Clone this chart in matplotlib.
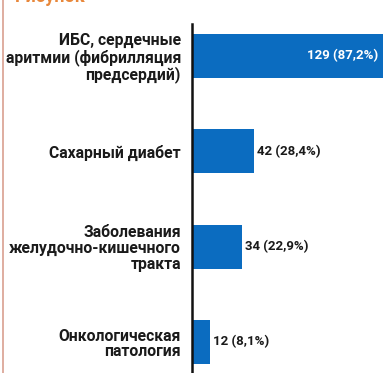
import matplotlib
matplotlib.use("Agg")
import matplotlib.pyplot as plt
from matplotlib.lines import Line2D

categories = [
    "ИБС, сердечные\nаритмии (фибрилляция\nпредсердий)",
    "Сахарный диабет",
    "Заболевания\nжелудочно-кишечного\nтракта",
    "Онкологическая\nпатология",
]
counts = [129, 42, 34, 12]
percents = ["87,2%", "28,4%", "22,9%", "8,1%"]
title = "Рисунок"

W, H = 387, 373
fig = plt.figure(figsize=(W / 100, H / 100), dpi=100)
fig.patch.set_facecolor("white")

# axes placement in pixels
ax_left, ax_right = 192, 387
ax_top, ax_bottom = 24, 373
ax = fig.add_axes([ax_left / W, 1 - ax_bottom / H, (ax_right - ax_left) / W, (ax_bottom - ax_top) / H])

blue = "#0B6CC0"
pos = list(range(len(categories)))
ax.barh(pos, counts, height=0.46, color=blue, edgecolor="none")
ax.set_xlim(0, 131.7)
ax.set_ylim(3.325, -0.336)

for s in ["top", "right", "bottom"]:
    ax.spines[s].set_visible(False)
ax.spines["left"].set_linewidth(1.8)
ax.spines["left"].set_color("#111111")
ax.set_xticks([])
ax.set_yticks(pos)
ax.set_yticklabels(categories, fontfamily="Roboto", fontweight="bold", fontsize=11.3,
                   color="#1a1a1a", linespacing=1.05)
ax.tick_params(axis="y", length=0, pad=8)

for i, (c, p) in enumerate(zip(counts, percents)):
    label = f"{c} ({p})"
    if i == 0:
        ax.text(c - 3, i, label, ha="right", va="center", color="white",
                fontfamily="Roboto", fontweight="bold", fontsize=9.5)
    else:
        ax.text(c + 2, i, label, ha="left", va="center", color="#1a1a1a",
                fontfamily="Roboto", fontweight="bold", fontsize=9.5)

# cut-off heading at top
fig.text(15 / W, 1 - 2 / H, title, ha="left", va="baseline", color="#E8873A",
         fontfamily="Roboto", fontweight="bold", fontsize=13)
# faint left border
fig.add_artist(Line2D([2.5 / W, 2.5 / W], [0, 1], color="#D9A090", linewidth=1.2))

fig.savefig("out.png", dpi=100, facecolor="white")
